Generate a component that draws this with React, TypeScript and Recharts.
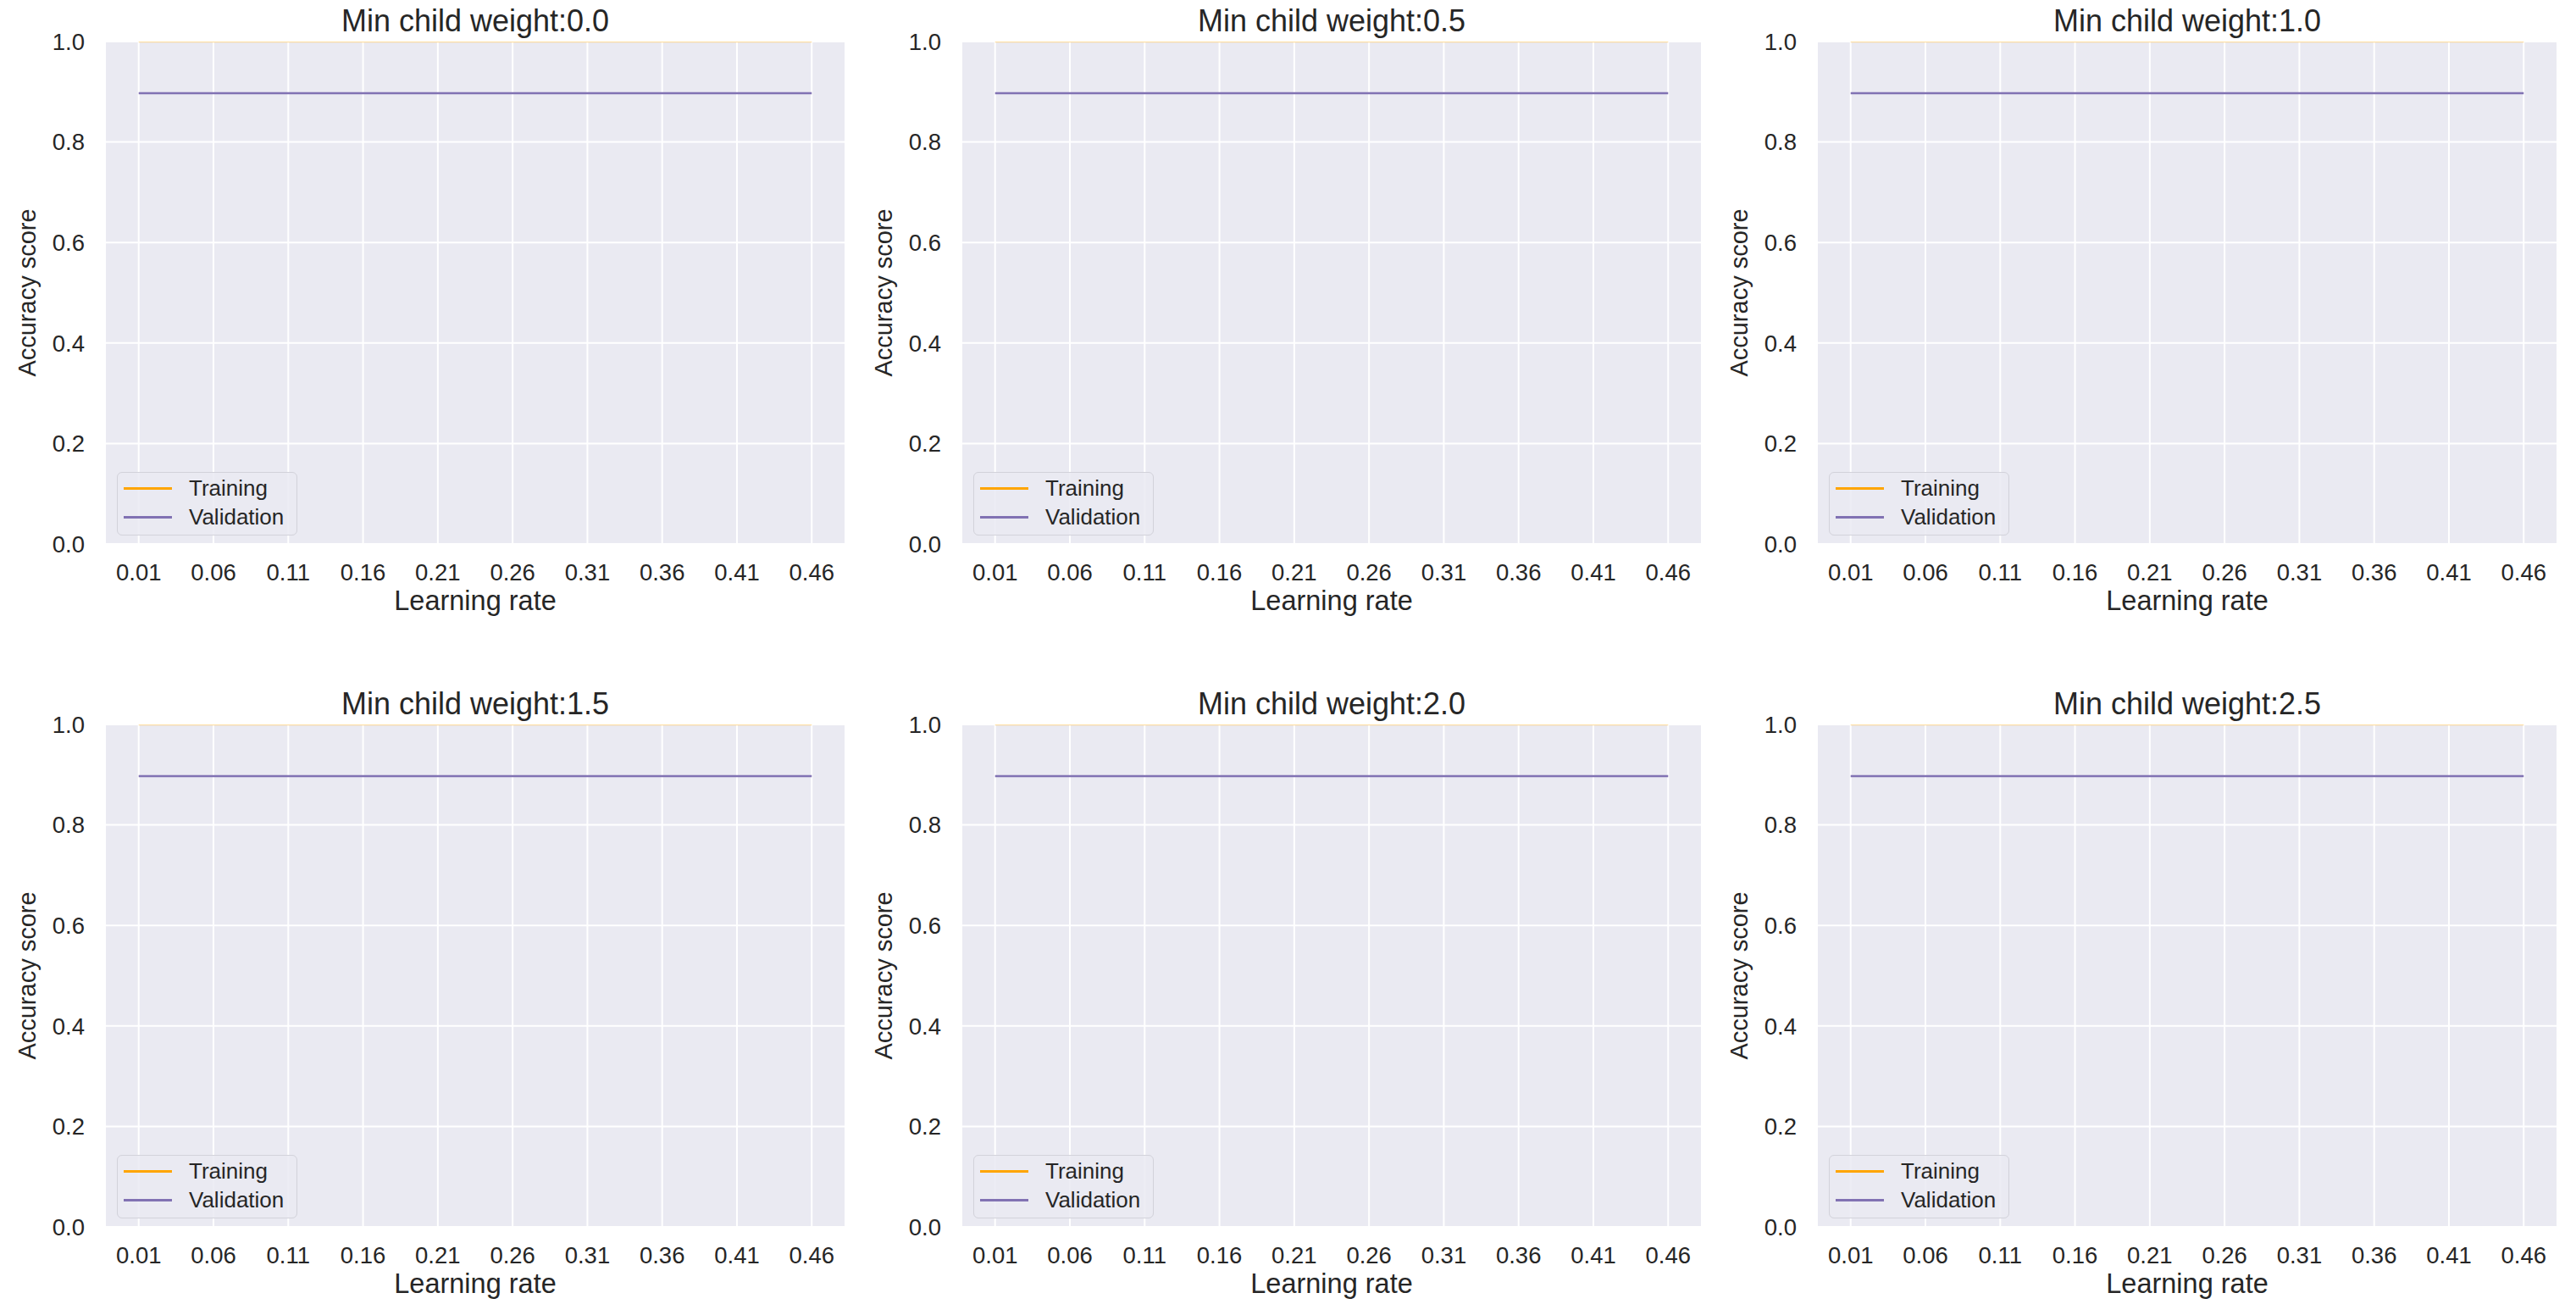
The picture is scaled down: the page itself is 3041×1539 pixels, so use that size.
import { LineChart, Line, XAxis, YAxis, CartesianGrid, Legend } from 'recharts';

// values
const learningRates = [0.01, 0.06, 0.11, 0.16, 0.21, 0.26, 0.31, 0.36, 0.41, 0.46];
const minChildWeights = [0.0, 0.5, 1.0, 1.5, 2.0, 2.5];
const trainingScores = [1.0, 1.0, 1.0, 1.0, 1.0, 1.0, 1.0, 1.0, 1.0, 1.0];
const validationScores = [0.897, 0.897, 0.897, 0.897, 0.897, 0.897, 0.897, 0.897, 0.897, 0.897];
const yTicks = [0, 0.2, 0.4, 0.6, 0.8, 1.0];

const FONT = '"Liberation Sans", Arial, Helvetica, sans-serif';
const INK = '#262626';
const BG = '#EAEAF2';

// plot box positions on the page
const colLefts = [124, 1135, 2145];
const rowTops = [49, 855];
const PLOT_W = 874;
const PLOT_H = 593;
const Y_AXIS_W = 124;
const X_AXIS_H = 100;
const M_TOP = 49;
const M_RIGHT = 12;
const M_BOTTOM = 8;
const CHART_W = Y_AXIS_W + PLOT_W + M_RIGHT;
const CHART_H = M_TOP + PLOT_H + X_AXIS_H + M_BOTTOM;

const TITLE_SIZE = 36;
const TICK_SIZE = 27.5;

const data = learningRates.map((lr, i) => ({
  lr,
  training: trainingScores[i],
  validation: validationScores[i],
}));

function LegendBox(props: any) {
  const items = props.payload || [];
  return (
    <div
      style={{
        width: 213,
        height: 75,
        boxSizing: 'border-box',
        border: '1.5px solid #d2d2da',
        borderRadius: 6,
        background: 'rgba(234,234,242,0.85)',
        position: 'relative',
        fontFamily: FONT,
        fontSize: 26,
        color: INK,
      }}
    >
      {items.map((it: any, i: number) => (
        <div
          key={it.value}
          style={{ position: 'absolute', left: 0, top: 4 + i * 34, height: 28, width: '100%' }}
        >
          <div
            style={{
              position: 'absolute',
              left: 7,
              top: 13,
              width: 57,
              height: 3,
              background: it.color,
            }}
          />
          <div style={{ position: 'absolute', left: 84, top: 0, lineHeight: '28px', whiteSpace: 'nowrap' }}>
            {it.value}
          </div>
        </div>
      ))}
    </div>
  );
}

function Panel({ weight, left, top }: { weight: number; left: number; top: number }) {
  return (
    <div style={{ position: 'absolute', left: left - Y_AXIS_W, top: top - M_TOP, width: CHART_W, height: CHART_H }}>
      <div
        style={{
          position: 'absolute',
          left: Y_AXIS_W,
          width: PLOT_W,
          top: M_TOP - 12 - Math.round(TITLE_SIZE * 0.8465),
          textAlign: 'center',
          fontSize: TITLE_SIZE,
          lineHeight: TITLE_SIZE + 'px',
          color: INK,
          fontFamily: FONT,
          whiteSpace: 'nowrap',
        }}
      >
        {'Min child weight:' + weight.toFixed(1)}
      </div>
      <LineChart
        width={CHART_W}
        height={CHART_H}
        data={data}
        margin={{ top: M_TOP, right: M_RIGHT, bottom: M_BOTTOM, left: 0 }}
        style={{ fontFamily: FONT }}
      >
        <CartesianGrid fill={BG} fillOpacity={1} stroke="#FFFFFF" strokeWidth={2} />
        <XAxis
          dataKey="lr"
          type="number"
          domain={[-0.0125, 0.4825]}
          ticks={learningRates}
          interval={0}
          allowDataOverflow
          tickFormatter={(v: number) => v.toFixed(2)}
          axisLine={false}
          tickLine={false}
          tickMargin={17}
          height={X_AXIS_H}
          tick={{ fill: INK, fontSize: TICK_SIZE, fontFamily: FONT }}
          label={{
            value: 'Learning rate',
            position: 'insideBottom',
            offset: 22,
            fill: INK,
            fontSize: 32.5,
            fontFamily: FONT,
          }}
        />
        <YAxis
          type="number"
          domain={[0, 1]}
          ticks={yTicks}
          interval={0}
          allowDataOverflow
          tickFormatter={(v: number) => v.toFixed(1)}
          axisLine={false}
          tickLine={false}
          tickMargin={18}
          width={Y_AXIS_W}
          tick={{ fill: INK, fontSize: TICK_SIZE, fontFamily: FONT }}
          label={{
            value: 'Accuracy score',
            angle: -90,
            position: 'insideLeft',
            offset: 32,
            fill: INK,
            fontSize: 29,
            fontFamily: FONT,
            style: { textAnchor: 'middle' },
          }}
        />
        <Legend
          layout="vertical"
          align="center"
          verticalAlign="middle"
          content={<LegendBox />}
          wrapperStyle={{ left: Y_AXIS_W + 14, top: M_TOP + PLOT_H - 85, width: 213, height: 75 }}
        />
        <Line
          dataKey="training"
          name="Training"
          stroke="#FFA500"
          strokeOpacity={0.35}
          strokeWidth={2.5}
          dot={false}
          activeDot={false}
          isAnimationActive={false}
        />
        <Line
          dataKey="validation"
          name="Validation"
          stroke="#8172B3"
          strokeWidth={2.5}
          dot={false}
          activeDot={false}
          isAnimationActive={false}
        />
      </LineChart>
    </div>
  );
}

export default function App() {
  return (
    <div
      style={{
        position: 'absolute',
        left: 0,
        top: 0,
        width: 3041,
        height: 1539,
        background: '#FFFFFF',
        overflow: 'hidden',
        fontFamily: FONT,
      }}
    >
      {minChildWeights.map((w, i) => (
        <Panel key={w} weight={w} left={colLefts[i % 3]} top={rowTops[Math.floor(i / 3)]} />
      ))}
    </div>
  );
}
